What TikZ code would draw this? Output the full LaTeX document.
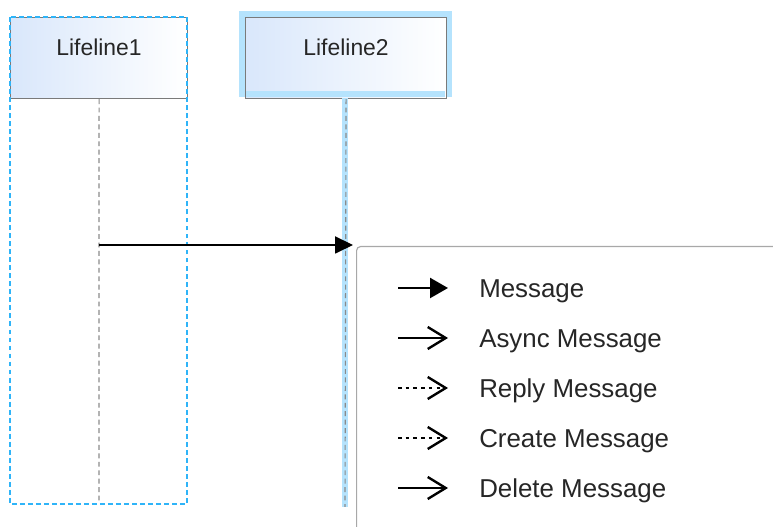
\documentclass[tikz,border=0pt]{standalone}
\usepackage{fontspec}
\setmainfont{Liberation Sans}
\usepackage{xcolor}
\usepackage{tikz}
\usetikzlibrary{arrows.meta}
\definecolor{LLBlue}{HTML}{2FB4F8}
\definecolor{LLGlow}{HTML}{B5E3FD}
\definecolor{LLFill}{HTML}{D9E7FB}
\definecolor{LLBorder}{HTML}{7A7A7A}
\definecolor{LLDash}{HTML}{8A8A8A}
\definecolor{LLText}{HTML}{262626}
\definecolor{MenuLine}{HTML}{A8A8A8}
\tikzset{
  lifebox/.style={draw=LLBorder,line width=0.8pt,left color=LLFill,right color=white,minimum height=2.025cm,inner sep=0pt},
  lifetext/.style={font=\fontsize{16.3}{19}\selectfont,text=LLText,inner sep=0pt,text height=11.7pt,text depth=0pt},
  lifedash/.style={LLDash,line width=0.8pt,dash pattern=on 3.5pt off 2.5pt},
  menutext/.style={anchor=west,font=\fontsize{18.4}{22}\selectfont,text=LLText,inner sep=0pt,text height=13.2pt,text depth=0pt},
  menuicon/.style={line width=1.7pt},
  replydots/.style={dash pattern=on 2.5pt off 3pt},
  openhead/.style={-{Straight Barb[length=0.45cm,width=0.55cm]}},
}

\begin{document}
\begin{tikzpicture}[x=1cm,y=1cm]
\path[use as bounding box] (0,0) rectangle (19.325,13.175);
% first lifeline
\node[lifebox,minimum width=4.425cm,anchor=north west] (boxA) at (0.25,12.75) {};
\node[lifetext] (nameA) at ([yshift=-0.75cm]boxA.north) {Lifeline1};
\coordinate (endA) at (2.475,0.575);
\draw[lifedash] (boxA.south) -- (endA);
\draw[LLBlue,line width=1pt,dash pattern=on 3.5pt off 2.2pt] (0.25,12.75) rectangle (4.675,0.575);
% second lifeline, highlighted
\fill[LLGlow] (5.975,10.75) rectangle (11.3,12.9);
\node[lifebox,minimum width=5.025cm,anchor=north west] (boxB) at (6.125,12.75) {};
\fill[LLGlow] (6.15,10.75) rectangle (11.125,10.9);
\node[lifetext] (nameB) at ([yshift=-0.75cm]boxB.north) {Lifeline2};
\coordinate (endB) at (8.625,0.5);
\fill[LLGlow] (8.55,10.725) rectangle (8.7,0.5);
\draw[lifedash] (boxB.south) -- (endB);
% message
\coordinate (msgfrom) at (2.475,7.05);
\coordinate (msgto) at (8.825,7.05);
\draw[line width=0.8pt,-{Triangle[length=0.45cm,width=0.43cm]}] (msgfrom) -- (msgto);
% popup menu
\node[draw=MenuLine,line width=0.8pt,fill=white,rounded corners=0.1cm,minimum width=12cm,minimum height=8cm,anchor=north west] (menu) at (8.9,7.025) {};
\coordinate (iconA) at (9.95,5.975);
\coordinate (tipA) at (11.2,5.975);
\draw[menuicon,-{Triangle[length=0.45cm,width=0.5cm]}] (iconA) -- (tipA);
\node[menutext] (itemA) at (11.975,5.975) {Message};
\coordinate (iconB) at (9.95,4.725);
\coordinate (tipB) at (11.2,4.725);
\draw[menuicon,openhead] (iconB) -- (tipB);
\node[menutext] (itemB) at (11.975,4.725) {Async Message};
\coordinate (iconC) at (9.95,3.475);
\coordinate (tipC) at (11.2,3.475);
\draw[menuicon,replydots,openhead] (iconC) -- (tipC);
\node[menutext] (itemC) at (11.975,3.475) {Reply Message};
\coordinate (iconD) at (9.95,2.225);
\coordinate (tipD) at (11.2,2.225);
\draw[menuicon,replydots,openhead] (iconD) -- (tipD);
\node[menutext] (itemD) at (11.975,2.225) {Create Message};
\coordinate (iconE) at (9.95,0.975);
\coordinate (tipE) at (11.2,0.975);
\draw[menuicon,openhead] (iconE) -- (tipE);
\node[menutext] (itemE) at (11.975,0.975) {Delete Message};
\end{tikzpicture}
\end{document}
